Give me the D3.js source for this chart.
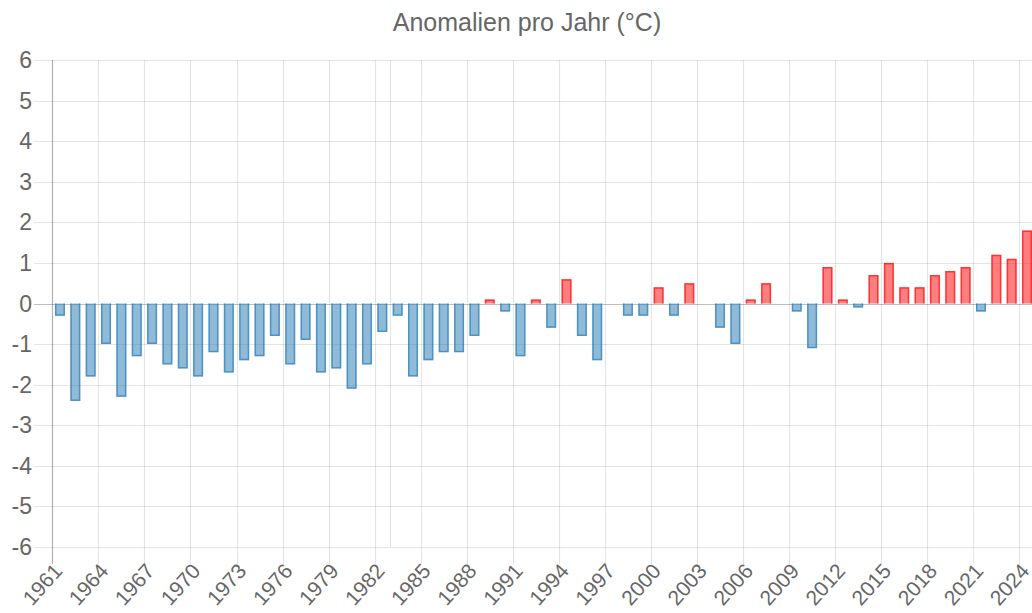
<!DOCTYPE html>
<html>
<head>
<meta charset="utf-8">
<title>Anomalien pro Jahr</title>
<script src="https://cdn.jsdelivr.net/npm/d3@7"></script>
<style>
  html, body { margin: 0; padding: 0; background: #fff; }
  svg { display: block; font-family: "Liberation Sans", Arial, Helvetica, sans-serif; }
</style>
</head>
<body>
<div id="chart"></div>
<script>
'use strict';

// years 1961 - 2024
var years = d3.range(1961, 2025);

// anomaly per year in degC (0 = no bar drawn)
var anomalies = [
  -0.3, -2.4, -1.8, -1.0, -2.3, -1.3, -1.0, -1.5, -1.6, -1.8,
  -1.2, -1.7, -1.4, -1.3, -0.8, -1.5, -0.9, -1.7, -1.6, -2.1,
  -1.5, -0.7, -0.3, -1.8, -1.4, -1.2, -1.2, -0.8,  0.1, -0.2,
  -1.3,  0.1, -0.6,  0.6, -0.8, -1.4,  0.0, -0.3, -0.3,  0.4,
  -0.3,  0.5,  0.0, -0.6, -1.0,  0.1,  0.5,  0.0, -0.2, -1.1,
   0.9,  0.1, -0.1,  0.7,  1.0,  0.4,  0.4,  0.7,  0.8,  0.9,
  -0.2,  1.2,  1.1,  1.8
];

var yTicks = [-6, -5, -4, -3, -2, -1, 0, 1, 2, 3, 4, 5, 6];

// every third year gets a label
var tickYears = years.filter(function(d, i) { return i % 3 === 0; });
// stray grid line that shows up in the original
var extraGridYears = [1983];

var chartTitle = 'Anomalien pro Jahr (°C)';

var width = 1032,
    height = 613;

var plot = { left: 52.3, right: 1034.7, top: 60, bottom: 547 };

var svg = d3.select('#chart')
  .append('svg')
  .attr('width', width)
  .attr('height', height);

var x = d3.scaleBand()
  .domain(years)
  .range([plot.left, plot.right])
  .paddingInner(0.35)
  .paddingOuter(0.175);

var y = d3.scaleLinear()
  .domain([-6, 6])
  .range([plot.bottom, plot.top]);

var gap = (x.step() - x.bandwidth()) / 2;
function slotStart(yr) { return x(yr) - gap; }

// horizontal grid
svg.append('g')
  .selectAll('line')
  .data(yTicks)
  .enter()
  .append('line')
  .attr('x1', 34)
  .attr('x2', width)
  .attr('y1', function(d) { return Math.round(y(d)) + 0.5; })
  .attr('y2', function(d) { return Math.round(y(d)) + 0.5; })
  .attr('stroke', function(d) { return d === 0 ? 'rgba(0,0,0,0.25)' : 'rgba(0,0,0,0.1)'; })
  .attr('stroke-width', 1.2);

// vertical grid
svg.append('g')
  .selectAll('line')
  .data(tickYears.concat(extraGridYears))
  .enter()
  .append('line')
  .attr('x1', function(d) { return Math.round(slotStart(d)) + 0.5; })
  .attr('x2', function(d) { return Math.round(slotStart(d)) + 0.5; })
  .attr('y1', plot.top)
  .attr('y2', function(d) { return d === extraGridYears[0] ? plot.bottom : plot.bottom + 17; })
  .attr('stroke', function(d) { return d === years[0] ? 'rgba(0,0,0,0.3)' : 'rgba(0,0,0,0.1)'; })
  .attr('stroke-width', 1.2);

// y labels
svg.append('g')
  .selectAll('text')
  .data(yTicks)
  .enter()
  .append('text')
  .attr('x', 32)
  .attr('y', function(d) { return y(d); })
  .attr('dy', '0.35em')
  .attr('text-anchor', 'end')
  .attr('fill', '#666')
  .style('font-size', '23px')
  .text(function(d) { return d; });

// x labels, rotated
svg.append('g')
  .selectAll('text')
  .data(tickYears)
  .enter()
  .append('text')
  .attr('transform', function(d) {
    return 'translate(' + (x(d) + x.bandwidth() / 2 - 2) + ',' + 567 + ') rotate(-48)';
  })
  .attr('text-anchor', 'end')
  .attr('dy', '0.35em')
  .attr('fill', '#666')
  .style('font-size', '21px')
  .text(function(d) { return d; });

// bars: fill plus a border that leaves out the base side
var bars = svg.append('g')
  .selectAll('g')
  .data(years.map(function(yr, i) { return { year: yr, value: anomalies[i] }; })
    .filter(function(d) { return d.value !== 0; }))
  .enter()
  .append('g');

function barColor(d, a) {
  return d.value > 0 ? 'rgba(255,0,0,' + a + ')' : 'rgba(31,119,180,' + a + ')';
}

bars.append('rect')
  .attr('x', function(d) { return x(d.year); })
  .attr('width', x.bandwidth())
  .attr('y', function(d) { return Math.min(y(0), y(d.value)); })
  .attr('height', function(d) { return Math.abs(y(d.value) - y(0)); })
  .attr('fill', function(d) { return barColor(d, 0.5); });

bars.append('path')
  .attr('d', function(d) {
    var x0 = x(d.year) + 0.75,
        x1 = x(d.year) + x.bandwidth() - 0.75,
        y0 = y(0),
        y1 = y(d.value) + (d.value > 0 ? 0.75 : -0.75);
    return 'M' + x0 + ',' + y0 + 'L' + x0 + ',' + y1 + 'L' + x1 + ',' + y1 + 'L' + x1 + ',' + y0;
  })
  .attr('fill', 'none')
  .attr('stroke', function(d) { return barColor(d, 0.6); })
  .attr('stroke-width', 1.5);

// title
svg.append('text')
  .attr('x', 527)
  .attr('y', 22)
  .attr('dy', '0.35em')
  .attr('text-anchor', 'middle')
  .attr('fill', '#666')
  .style('font-size', '25px')
  .text(chartTitle);
</script>
</body>
</html>
